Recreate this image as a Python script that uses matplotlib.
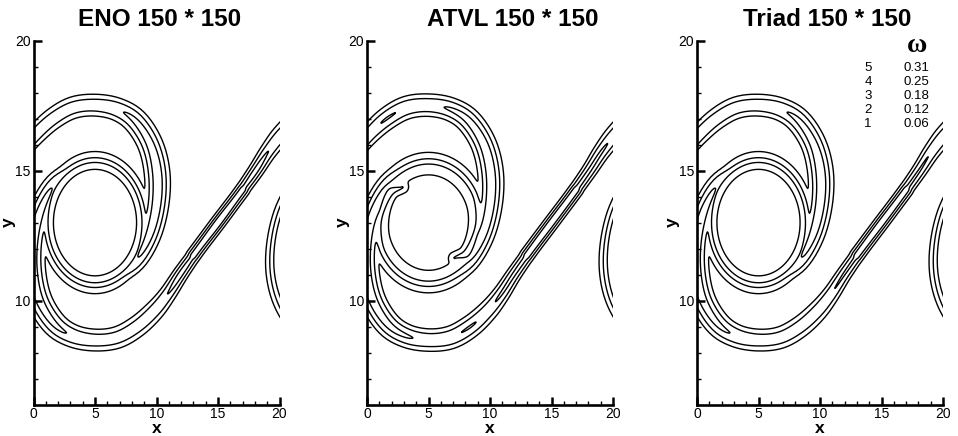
import numpy as np
import matplotlib
matplotlib.use('Agg')
import matplotlib.pyplot as plt

plt.rcParams['font.family'] = 'sans-serif'
plt.rcParams['font.sans-serif'] = ['Liberation Sans', 'DejaVu Sans']

# contour levels (legend of the right panel)
levels = [0.06, 0.12, 0.18, 0.25, 0.31]
level_ids = [1, 2, 3, 4, 5]
titles = ['ENO 150 * 150', 'ATVL 150 * 150', 'Triad 150 * 150']

# vortex core (one value per panel)
x_c, y_c = 5.0, 13.0
core_peak = [0.29, 0.262, 0.29]
core_aspect = [1.65, 1.8, 1.65]
core_radius = 2.42
period = 20.0

# centre line of one spiral arm (the other arm is its 180 deg image)
arm_x = [-7.0, -5.0, -3.5, -2.0, -0.9, 0.2, 1.6, 3.2, 5.0, 6.8, 8.3, 9.5, 10.05, 10.0, 9.4, 8.3, 6.9, 5.4]
arm_y = [11.75, 13.0, 13.95, 14.95, 15.75, 16.4, 17.0, 17.42, 17.52, 17.36, 16.9, 16.0, 14.9, 13.7, 12.5, 11.5, 11.0, 10.95]
arm_w = [6.5, 6.5, 6.5, 7.0, 8.0, 9.5, 10.5, 11.0, 11.0, 11.0, 11.5, 11.5, 11.5, 11.0, 10.5, 9.5, 8.5, 8.0]
eno_amp = [0.19, 0.205, 0.185, 0.20, 0.18, 0.17, 0.162, 0.158, 0.16, 0.175, 0.19, 0.20, 0.21, 0.21, 0.20, 0.17, 0.11, 0.05]
atvl_amp = [0.19, 0.20, 0.195, 0.19, 0.185, 0.175, 0.182, 0.176, 0.17, 0.185, 0.195, 0.205, 0.21, 0.21, 0.20, 0.17, 0.11, 0.05]
triad_amp = [0.19, 0.20, 0.19, 0.185, 0.178, 0.17, 0.162, 0.158, 0.16, 0.175, 0.19, 0.20, 0.21, 0.21, 0.20, 0.17, 0.11, 0.05]
panel_amps = [eno_amp, atvl_amp, triad_amp]

# ATVL only: notch where the inner tongue meets the core
notch_x = [1.1, 1.3, 1.9, 2.9]
notch_y = [11.9, 13.3, 14.1, 14.35]
notch_depth = [0.0, 0.04, 0.075, 0.075]
panel_notch = [0.0, 1.0, 0.0]

W, H = 958, 436
ax_left = [33.5, 367.0, 697.0]
ax_w, ax_top, ax_bot = 246.0, 40.7, 404.5
title_x = [160, 513, 827]
SX = ax_w / 20.0
SY = (ax_bot - ax_top) / 14.0

xg = np.arange(-0.6, 20.61, 0.05)
yg = np.arange(5.8, 20.21, 0.03)
Xs, Ys = np.meshgrid(xg * SX, yg * SY)
xs_1d, ys_1d = xg * SX, yg * SY


def catmull(pts, n=6):
    P = np.vstack([2 * pts[0] - pts[1], pts, 2 * pts[-1] - pts[-2]])
    out = []
    t = np.linspace(0, 1, n, endpoint=False)[:, None]
    for i in range(1, len(P) - 2):
        p0, p1, p2, p3 = P[i - 1], P[i], P[i + 1], P[i + 2]
        out.append(0.5 * (2 * p1 + (-p0 + p2) * t + (2 * p0 - 5 * p1 + 4 * p2 - p3) * t ** 2
                          + (-p0 + 3 * p1 - 3 * p2 + p3) * t ** 3))
    out.append(P[-2][None, :])
    return np.vstack(out)


def band(cx, cy, ca, cw):
    F = np.zeros_like(Xs)
    sx, sy = cx * SX, cy * SY
    for i in range(len(sx) - 1):
        x0, y0, x1, y1 = sx[i], sy[i], sx[i + 1], sy[i + 1]
        r = 3.2 * max(cw[i], cw[i + 1])
        i0 = np.searchsorted(xs_1d, min(x0, x1) - r)
        i1 = np.searchsorted(xs_1d, max(x0, x1) + r)
        j0 = np.searchsorted(ys_1d, min(y0, y1) - r)
        j1 = np.searchsorted(ys_1d, max(y0, y1) + r)
        if i1 <= i0 or j1 <= j0:
            continue
        X = Xs[j0:j1, i0:i1]
        Y = Ys[j0:j1, i0:i1]
        dx, dy = x1 - x0, y1 - y0
        L2 = dx * dx + dy * dy + 1e-9
        t = np.clip(((X - x0) * dx + (Y - y0) * dy) / L2, 0, 1)
        d2 = (X - x0 - t * dx) ** 2 + (Y - y0 - t * dy) ** 2
        a = ca[i] + t * (ca[i + 1] - ca[i])
        w = cw[i] + t * (cw[i + 1] - cw[i])
        v = a * np.exp(-d2 / w ** 2)
        F[j0:j1, i0:i1] = np.maximum(F[j0:j1, i0:i1], v)
    return F


def vorticity(k):
    c = catmull(np.column_stack([arm_x, arm_y, panel_amps[k], arm_w]))
    xg2, yg2 = np.meshgrid(xg, yg)
    rr = np.hypot((xg2 - x_c) / core_aspect[k], yg2 - y_c)
    core = core_peak[k] / (1 + (rr / core_radius) ** 11)
    if panel_notch[k] > 0:
        nc = catmull(np.column_stack([notch_x, notch_y, notch_depth, [4.0] * len(notch_x)]), n=8)
        dip = band(nc[:, 0], nc[:, 1], nc[:, 2], nc[:, 3])
        dip = np.maximum(dip, band(2 * x_c - nc[:, 0], 2 * y_c - nc[:, 1], nc[:, 2], nc[:, 3]))
        core = core - panel_notch[k] * dip
    total = np.clip(core, 0, None) ** 6
    for rot in (False, True):
        ax_ = 2 * x_c - c[:, 0] if rot else c[:, 0]
        ay_ = 2 * y_c - c[:, 1] if rot else c[:, 1]
        for shift in (0.0, period):
            total += band(ax_ + shift, ay_, c[:, 2], c[:, 3]) ** 6
    return total ** (1 / 6)


fig = plt.figure(figsize=(W / 100, H / 100), dpi=100)

for k in range(3):
    ax = fig.add_axes([ax_left[k] / W, 1 - ax_bot / H, ax_w / W, (ax_bot - ax_top) / H])
    F = vorticity(k)
    ax.contour(xg, yg, F, levels=levels, colors='k', linewidths=1.0)
    ax.set_xlim(0, 20)
    ax.set_ylim(6, 20)
    for s in ('top', 'right'):
        ax.spines[s].set_visible(False)
    for s in ('left', 'bottom'):
        ax.spines[s].set_linewidth(1.9)
    ax.set_xticks([0, 5, 10, 15, 20])
    ax.set_xticks(np.arange(0, 21, 1), minor=True)
    ax.set_yticks([10, 15, 20])
    ax.set_yticks(np.arange(7, 21, 1), minor=True)
    ax.tick_params(which='major', direction='in', length=6, width=1.8, labelsize=10, pad=2)
    ax.tick_params(which='minor', direction='in', length=2.6, width=1.0)
    ax.set_xlabel('x', fontweight='bold', fontsize=12.5, labelpad=0)
    ax.set_ylabel('y', fontweight='bold', fontsize=12.5)
    ax.yaxis.set_label_coords(-0.07, 0.5)
    fig.text(title_x[k] / W, 1 - 19 / H, titles[k], ha='center', va='center',
             fontsize=17.5, fontweight='bold')

# legend of contour levels
fig.text(917 / W, 1 - 45 / H, '\u03c9', ha='center', va='center', fontsize=20,
         family='Liberation Serif', fontweight='bold')
for i, (n, v) in enumerate(zip(level_ids[::-1], levels[::-1])):
    yy = 1 - (68.3 + i * 13.9) / H
    fig.text(868 / W, yy, str(n), ha='center', va='center', fontsize=9.5)
    fig.text(916 / W, yy, f'{v:.2f}', ha='center', va='center', fontsize=9.5)

fig.savefig('out.png', dpi=100)
